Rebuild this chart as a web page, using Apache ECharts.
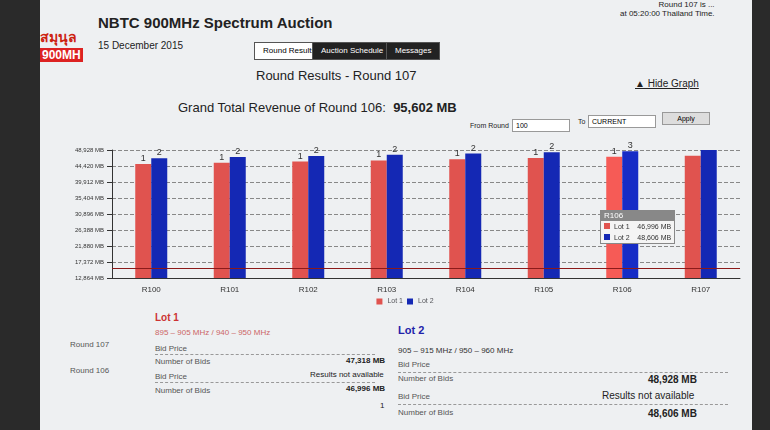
<!DOCTYPE html>
<html>
<head>
<meta charset="UTF-8">
<script src="https://cdn.jsdelivr.net/npm/echarts@6/dist/echarts.min.js"></script>
<style>
body{margin:0;width:770px;height:430px;background:#2a2a2a;font-family:"Liberation Sans",Arial,sans-serif;overflow:hidden;}
#screen{position:absolute;left:40px;top:0;width:712px;height:430px;background:#eef0f2;}
.t{position:absolute;white-space:nowrap;color:#222;}
.tab{position:absolute;top:42px;height:16px;font-size:8px;line-height:16px;padding:0 8px;border:1px solid #555;}
.box{position:absolute;border:1px solid #999;background:#fff;font-size:7px;line-height:11px;padding:0 3px;}
#chart{position:absolute;left:20px;top:138px;width:690px;height:172px;}
.row{position:absolute;font-size:8px;color:#555;}
.dash{position:absolute;border-top:1px dashed #999;}
</style>
</head>
<body>
<div id="screen">
  <div class="t" style="left:0;top:26px;font-size:14px;font-weight:bold;color:#c21;">สมุนุล<br></div>
  <div class="t" style="left:0;top:48px;font-size:12px;font-weight:bold;color:#fff;background:#d22;padding:0 2px;">900MH</div>
  <div class="t" style="left:58px;top:14px;font-size:15px;font-weight:bold;">NBTC 900MHz Spectrum Auction</div>
  <div class="t" style="left:58px;top:40px;font-size:10px;">15 December 2015</div>
  <div class="t" style="left:580px;top:0;font-size:8px;text-align:right;">Round 107 is ...<br>at 05:20:00 Thailand Time.</div>
  <div class="tab" style="left:214px;background:#fff;">Round Results</div>
  <div class="tab" style="left:272px;background:#222;color:#fff;">Auction Schedule</div>
  <div class="tab" style="left:346px;background:#222;color:#fff;">Messages</div>
  <div class="t" style="left:216px;top:68px;font-size:13px;">Round Results - Round 107</div>
  <div class="t" style="left:595px;top:78px;font-size:10px;text-decoration:underline;">▲ Hide Graph</div>
  <div class="t" style="left:138px;top:100px;font-size:13px;">Grand Total Revenue of Round 106:&nbsp; <b>95,602 MB</b></div>
  <div class="t" style="left:430px;top:122px;font-size:7px;">From Round</div>
  <div class="box" style="left:472px;top:119px;width:50px;">100</div>
  <div class="t" style="left:538px;top:118px;font-size:7px;">To</div>
  <div class="box" style="left:548px;top:115px;width:60px;">CURRENT</div>
  <div class="box" style="left:622px;top:112px;width:40px;text-align:center;background:#ddd;">Apply</div>
  <div id="chart"></div>
  <div class="t" style="left:115px;top:312px;font-size:10px;font-weight:bold;color:#c33;">Lot 1</div>
  <div class="row" style="left:115px;top:328px;color:#c66;">895 – 905 MHz / 940 – 950 MHz</div>
  <div class="t" style="left:358px;top:324px;font-size:11px;font-weight:bold;color:#22a;">Lot 2</div>
  <div class="row" style="left:358px;top:346px;color:#333;">905 – 915 MHz / 950 – 960 MHz</div>
  <div class="row" style="left:30px;top:340px;">Round 107</div>
  <div class="row" style="left:30px;top:366px;">Round 106</div>
  <div class="row" style="left:115px;top:344px;">Bid Price</div>
  <div class="row" style="left:115px;top:357px;">Number of Bids</div>
  <div class="row" style="left:115px;top:372px;">Bid Price</div>
  <div class="row" style="left:115px;top:386px;">Number of Bids</div>
  <div class="row" style="left:306px;top:356px;color:#222;font-weight:bold;">47,318 MB</div>
  <div class="row" style="left:270px;top:370px;color:#222;">Results not available</div>
  <div class="row" style="left:306px;top:384px;color:#222;font-weight:bold;">46,996 MB</div>
  <div class="row" style="left:340px;top:401px;color:#222;">1</div>
  <div class="row" style="left:358px;top:360px;">Bid Price</div>
  <div class="row" style="left:358px;top:374px;">Number of Bids</div>
  <div class="row" style="left:358px;top:392px;">Bid Price</div>
  <div class="row" style="left:358px;top:408px;">Number of Bids</div>
  <div class="row" style="left:608px;top:374px;color:#222;font-size:10px;font-weight:bold;">48,928 MB</div>
  <div class="row" style="left:562px;top:390px;color:#222;font-size:10px;">Results not available</div>
  <div class="row" style="left:608px;top:408px;color:#222;font-size:10px;font-weight:bold;">48,606 MB</div>
  <div class="dash" style="left:115px;top:354px;width:220px;"></div>
  <div class="dash" style="left:115px;top:382px;width:220px;"></div>
  <div class="dash" style="left:358px;top:372px;width:330px;"></div>
  <div class="dash" style="left:358px;top:404px;width:330px;"></div>
</div>
<script>
var rounds = ['R100', 'R101', 'R102', 'R103', 'R104', 'R105', 'R106', 'R107'];
var lot1 = [45000, 45330, 45660, 45990, 46330, 46660, 46996, 47318];
var lot2 = [46600, 46930, 47260, 47600, 47930, 48270, 48606, 48928];
var bids1 = ['1', '1', '1', '1', '1', '1', '1', ''];
var bids2 = ['2', '2', '2', '2', '2', '2', '3', ''];
var reserveLine = 15500;

var chart = echarts.init(document.getElementById('chart'));
function lbl(arr) {
  return { show: true, position: 'top', distance: 1, fontSize: 9, color: '#333',
    formatter: function (p) { return arr[p.dataIndex]; } };
}
function fmt(v) { return v.toLocaleString('en-US') + ' MB'; }
chart.setOption({
  animation: false,
  grid: { left: 52, right: 10, top: 12, bottom: 32 },
  legend: { bottom: 0, itemWidth: 6, itemHeight: 6, itemGap: 4, textStyle: { fontSize: 7 }, icon: 'rect' },
  tooltip: { trigger: 'axis', axisPointer: { type: 'none' }, position: [540, 72],
    padding: 0, borderColor: '#888', backgroundColor: '#f4f4f4', transitionDuration: 0,
    extraCssText: 'box-shadow:none;border-radius:0;line-height:10px;',
    formatter: function (ps) {
      var h = '<div style="background:#888;color:#fff;font-size:8px;line-height:10px;padding:0 3px;">' + ps[0].name + '</div>';
      ps.forEach(function (p) {
        h += '<div style="font-size:7px;line-height:11px;padding:0 3px;color:#333;">' +
          '<span style="display:inline-block;width:6px;height:6px;margin-right:4px;background:' + p.color + '"></span>' +
          p.seriesName + '&nbsp;&nbsp;&nbsp;&nbsp;' + fmt(p.value) + '</div>';
      });
      return h;
    } },
  xAxis: { type: 'category', data: rounds, axisTick: { show: false },
    axisLine: { lineStyle: { color: '#333' } }, axisLabel: { fontSize: 8, color: '#333' } },
  yAxis: { type: 'value', min: 12864, max: 48928, interval: 4508,
    axisLine: { show: true, lineStyle: { color: '#333' } }, axisTick: { show: true },
    axisLabel: { fontSize: 6, color: '#333', formatter: fmt },
    splitLine: { lineStyle: { type: 'dashed', color: '#888' } } },
  series: [
    { name: 'Lot 1', type: 'bar', data: lot1, barWidth: 16, barGap: '0%', itemStyle: { color: '#e0534f' },
      label: lbl(bids1),
      markLine: { symbol: 'none', silent: true, label: { show: false },
        lineStyle: { color: '#8b1a1a', type: 'solid', width: 1 }, data: [{ yAxis: reserveLine }] } },
    { name: 'Lot 2', type: 'bar', data: lot2, barWidth: 16, itemStyle: { color: '#1428b4' },
      label: lbl(bids2) }
  ]
});
chart.dispatchAction({ type: 'showTip', seriesIndex: 0, dataIndex: 6 });
</script>
</body>
</html>
